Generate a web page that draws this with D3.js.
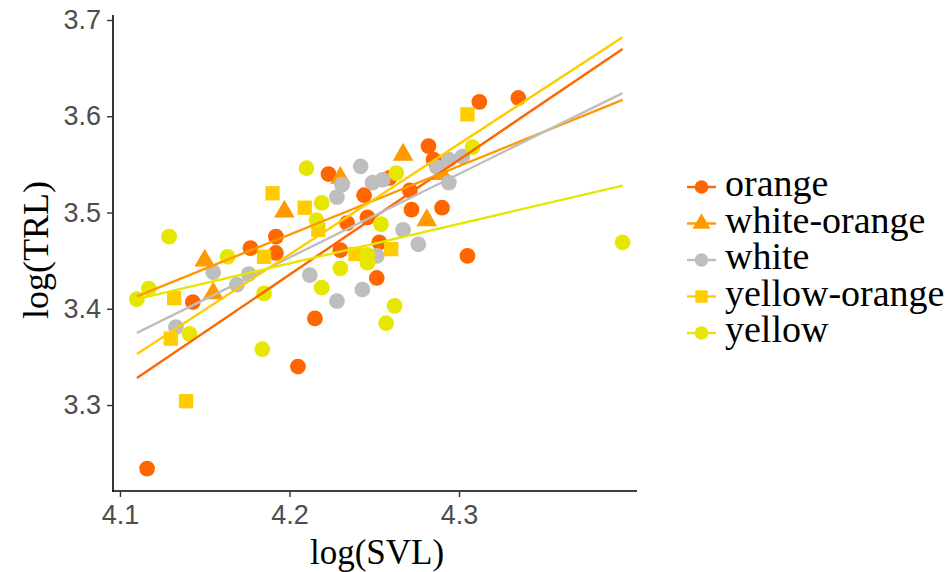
<!DOCTYPE html>
<html>
<head>
<meta charset="utf-8">
<script src="https://cdn.jsdelivr.net/npm/d3@7"></script>
<style>
  body { margin: 0; background: #fff; }
  svg { display: block; }
</style>
</head>
<body>
<svg id="chart"></svg>
<script>
// values, [log(SVL), log(TRL)]
const orangePts = [[4.116,3.234],[4.143,3.407],[4.177,3.463],[4.192,3.475],[4.192,3.458],[4.205,3.340],[4.215,3.390],[4.223,3.540],[4.230,3.461],[4.234,3.489],[4.244,3.518],[4.246,3.495],[4.2515,3.432],[4.253,3.469],[4.259,3.536],[4.271,3.523],[4.272,3.503],[4.282,3.569],[4.285,3.555],[4.290,3.505],[4.305,3.455],[4.312,3.615],[4.335,3.619]];
const whiteOrangePts = [[4.150,3.450],[4.155,3.416],[4.197,3.501],[4.230,3.536],[4.267,3.560],[4.281,3.492],[4.290,3.540]];
const whitePts = [[4.133,3.381],[4.155,3.438],[4.169,3.425],[4.176,3.436],[4.212,3.435],[4.228,3.408],[4.228,3.516],[4.231,3.529],[4.242,3.548],[4.243,3.420],[4.249,3.531],[4.255,3.534],[4.2515,3.455],[4.267,3.482],[4.276,3.467],[4.287,3.547],[4.294,3.555],[4.302,3.558],[4.294,3.531]];
const yellowOrangePts = [[4.130,3.369],[4.132,3.411],[4.139,3.304],[4.185,3.454],[4.190,3.520],[4.209,3.505],[4.217,3.482],[4.239,3.457],[4.260,3.462],[4.305,3.602]];
const yellowPts = [[4.110,3.410],[4.117,3.421],[4.129,3.475],[4.141,3.374],[4.1635,3.454],[4.184,3.358],[4.185,3.416],[4.210,3.546],[4.216,3.492],[4.219,3.510],[4.219,3.422],[4.230,3.442],[4.246,3.456],[4.246,3.448],[4.254,3.488],[4.257,3.385],[4.262,3.403],[4.263,3.541],[4.308,3.568],[4.3965,3.469]];

// fitted lines: y at the two ends of fitX
const fitX = [4.110, 4.3965];
const fitOrange = [3.328, 3.670];
const fitWhiteOrange = [3.413, 3.617];
const fitWhite = [3.375, 3.624];
const fitYellowOrange = [3.353, 3.682];
const fitYellow = [3.410, 3.528];

const groupNames = ["orange", "white-orange", "white", "yellow-orange", "yellow"];
const xTicks = [4.1, 4.2, 4.3];
const yTicks = [3.3, 3.4, 3.5, 3.6, 3.7];

const groups = [
  { name: groupNames[0], pts: orangePts, fit: fitOrange, color: "#ff6600", shape: "circle" },
  { name: groupNames[1], pts: whiteOrangePts, fit: fitWhiteOrange, color: "#ff9900", shape: "triangle" },
  { name: groupNames[2], pts: whitePts, fit: fitWhite, color: "#bebebe", shape: "circle" },
  { name: groupNames[3], pts: yellowOrangePts, fit: fitYellowOrange, color: "#ffcc00", shape: "square" },
  { name: groupNames[4], pts: yellowPts, fit: fitYellow, color: "#e6e600", shape: "circle" },
];

const width = 952, height = 572;
const svg = d3.select("#chart").attr("width", width).attr("height", height);

const panel = { left: 113, right: 637, top: 15, bottom: 491 };
const x = d3.scaleLinear().domain([4.0959, 4.405]).range([panel.left, panel.right]);
const y = d3.scaleLinear().domain([3.2107, 3.7052]).range([panel.bottom, panel.top]);

const symbolFor = (shape, size) => {
  const type = shape === "triangle" ? d3.symbolTriangle : shape === "square" ? d3.symbolSquare : d3.symbolCircle;
  return d3.symbol().type(type).size(size)();
};
const markSize = { circle: 195, triangle: 185, square: 205 };

// axes
const tickFont = "'Liberation Sans', Arial, sans-serif";
const titleFont = "'Liberation Serif', 'Times New Roman', serif";

const xAxis = svg.append("g")
  .attr("transform", `translate(0,${panel.bottom})`)
  .call(d3.axisBottom(x).tickValues(xTicks).tickSize(6).tickPadding(8).tickSizeOuter(0).tickFormat(d3.format(".1f")));
const yAxis = svg.append("g")
  .attr("transform", `translate(${panel.left},0)`)
  .call(d3.axisLeft(y).tickValues(yTicks).tickSize(6).tickPadding(6).tickSizeOuter(0).tickFormat(d3.format(".1f")));

[xAxis, yAxis].forEach((ax) => {
  ax.select(".domain").attr("stroke", "#000").attr("stroke-width", 1.6);
  ax.selectAll(".tick line").attr("stroke", "#333").attr("stroke-width", 1.4);
  ax.selectAll(".tick text")
    .attr("fill", "#4d4d4d")
    .style("font-family", tickFont)
    .style("font-size", "27px");
});
// make the domains meet in the corner
xAxis.select(".domain").attr("d", `M${panel.left - 0.8},0H${panel.right}`);
yAxis.select(".domain").attr("d", `M0,${panel.top}V${panel.bottom + 0.8}`);

svg.append("text")
  .attr("x", 377)
  .attr("y", 564)
  .attr("text-anchor", "middle")
  .style("font-family", titleFont)
  .style("font-size", "35px")
  .attr("fill", "#000")
  .text("log(SVL)");

svg.append("text")
  .attr("transform", `translate(48,250) rotate(-90)`)
  .attr("text-anchor", "middle")
  .style("font-family", titleFont)
  .style("font-size", "36px")
  .attr("fill", "#000")
  .text("log(TRL)");

// points
const plot = svg.append("g");
groups.forEach((g) => {
  plot.append("g")
    .selectAll("path")
    .data(g.pts)
    .join("path")
    .attr("transform", (d) => `translate(${x(d[0])},${y(d[1])})`)
    .attr("d", symbolFor(g.shape, markSize[g.shape]))
    .attr("fill", g.color);
});

// fitted lines on top
const line = d3.line().x((d) => x(d[0])).y((d) => y(d[1]));
groups.forEach((g) => {
  plot.append("path")
    .datum(fitX.map((xv, i) => [xv, g.fit[i]]))
    .attr("d", line)
    .attr("fill", "none")
    .attr("stroke", g.color)
    .attr("stroke-width", 2.4);
});

// legend
const legend = svg.append("g").attr("transform", "translate(687,187)");
const rowH = 36.5;
groups.forEach((g, i) => {
  const row = legend.append("g").attr("transform", `translate(0,${i * rowH})`);
  row.append("line")
    .attr("x1", 0).attr("x2", 29)
    .attr("stroke", g.color).attr("stroke-width", 2.4);
  row.append("path")
    .attr("transform", "translate(14.5,0)")
    .attr("d", symbolFor(g.shape, markSize[g.shape] * 0.75))
    .attr("fill", g.color);
  row.append("text")
    .attr("x", 38)
    .attr("y", 9)
    .style("font-family", titleFont)
    .style("font-size", "38px")
    .attr("fill", "#000")
    .text(g.name);
});
</script>
</body>
</html>
